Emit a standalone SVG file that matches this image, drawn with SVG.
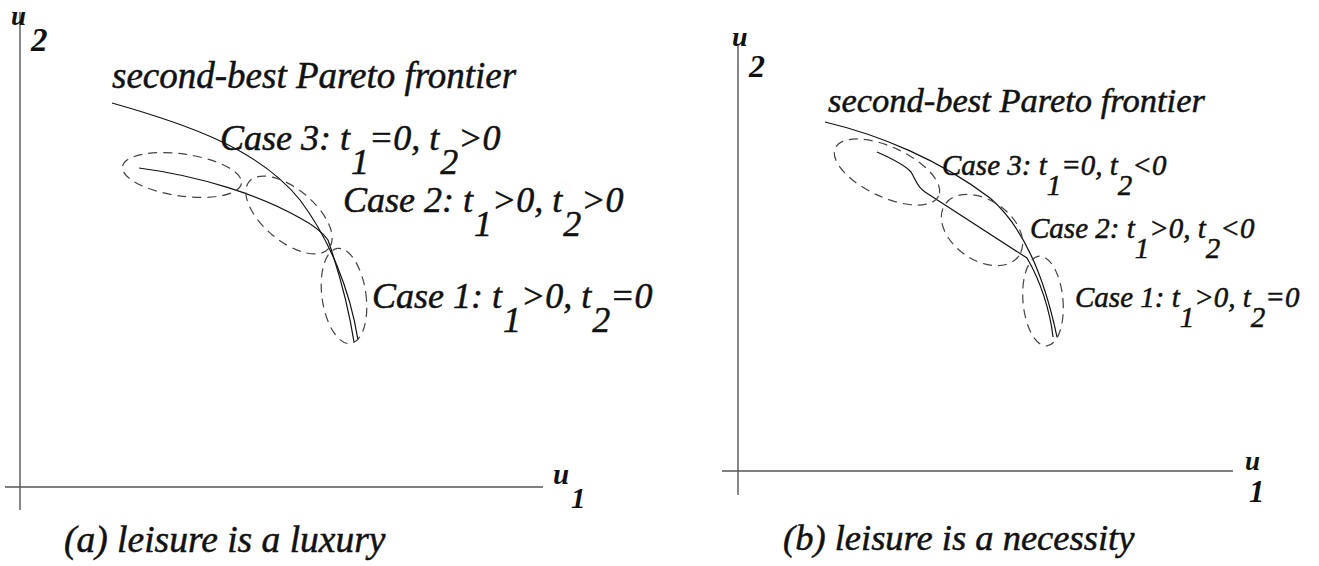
<svg xmlns="http://www.w3.org/2000/svg" width="1319" height="566" viewBox="0 0 1319 566">
<style>
.axis{stroke:#555;stroke-width:1.4;fill:none}
.curve{stroke:#111;stroke-width:1.2;fill:none}
.dash{stroke:#444;stroke-width:1.2;fill:none;stroke-dasharray:9 6}
.lbl{font-family:"Liberation Serif","Times New Roman",serif;font-style:italic;fill:#111;stroke:#111;stroke-width:0.5}
.ax{font-family:"Liberation Serif","Times New Roman",serif;font-style:italic;font-weight:bold;fill:#111}
</style>
<rect width="1319" height="566" fill="#fff"/>
<g id="panel-a">
  <g id="axes-a">
    <line class="axis" x1="20" y1="12" x2="20" y2="510"/>
    <line class="axis" x1="5" y1="487" x2="543" y2="487"/>
    <text class="ax" x="11" y="24.5" font-size="27">u</text>
    <text class="ax" x="31" y="51" font-size="33">2</text>
    <text class="ax" x="553" y="484" font-size="29">u</text>
    <text class="ax" x="571" y="508" font-size="29">1</text>
  </g>
  <g id="frontier-a">
    <path class="curve" d="M112,103 C190,125 260,150 300,200 C330,240 350,290 358,340"/>
    <text class="lbl" x="112" y="88" font-size="37">second-best Pareto frontier</text>
  </g>
  <g id="inner-a">
    <path class="curve" d="M139,168 C200,176 260,195 300,218 C315,226 323,233 328,240 C340,275 349,310 354,342"/>
  </g>
  <g id="case3-a">
    <ellipse class="dash" cx="182" cy="175" rx="60" ry="21" transform="rotate(8 182 175)"/>
    <text class="lbl" x="220" y="150" font-size="36">Case 3: t<tspan dx="1" dy="24">1</tspan><tspan dy="-24">=0, t</tspan><tspan dx="1" dy="24">2</tspan><tspan dy="-24">&gt;0</tspan></text>
  </g>
  <g id="case2-a">
    <ellipse class="dash" cx="289" cy="215" rx="52" ry="26" transform="rotate(40 289 215)"/>
    <text class="lbl" x="343" y="212" font-size="36">Case 2: t<tspan dx="1" dy="24">1</tspan><tspan dy="-24">&gt;0, t</tspan><tspan dx="1" dy="24">2</tspan><tspan dy="-24">&gt;0</tspan></text>
  </g>
  <g id="case1-a">
    <ellipse class="dash" cx="344" cy="296" rx="22" ry="48" transform="rotate(-8 344 296)"/>
    <text class="lbl" x="372" y="308" font-size="36">Case 1: t<tspan dx="1" dy="24">1</tspan><tspan dy="-24">&gt;0, t</tspan><tspan dx="1" dy="24">2</tspan><tspan dy="-24">=0</tspan></text>
  </g>
  <text id="caption-a" class="lbl" x="64" y="552" font-size="37.5">(a) leisure is a luxury</text>
</g>
<g id="panel-b">
  <g id="axes-b">
    <line class="axis" x1="738" y1="44" x2="738" y2="495"/>
    <line class="axis" x1="722" y1="471" x2="1233" y2="471"/>
    <text class="ax" x="732" y="46" font-size="28">u</text>
    <text class="ax" x="749" y="77" font-size="32">2</text>
    <text class="ax" x="1245" y="470" font-size="27">u</text>
    <text class="ax" x="1249" y="502" font-size="31">1</text>
  </g>
  <g id="frontier-b">
    <path class="curve" d="M825,122 C880,135 940,160 990,198 C1025,228 1045,280 1057,337"/>
    <text class="lbl" x="828" y="112" font-size="34.5">second-best Pareto frontier</text>
  </g>
  <g id="inner-b">
    <path class="curve" d="M877,152 C895,160 906,166 911,172 C916,180 917,187 925,192 L1027,258 C1040,280 1050,310 1053,337"/>
  </g>
  <g id="case3-b">
    <ellipse class="dash" cx="887" cy="172" rx="57" ry="25" transform="rotate(25 887 172)"/>
    <text class="lbl" x="942" y="175" font-size="29">Case 3: t<tspan dy="20">1</tspan><tspan dy="-20">=0, t</tspan><tspan dy="20">2</tspan><tspan dy="-20">&lt;0</tspan></text>
  </g>
  <g id="case2-b">
    <ellipse class="dash" cx="982" cy="230" rx="45" ry="30" transform="rotate(35 982 230)"/>
    <text class="lbl" x="1030" y="238" font-size="29">Case 2: t<tspan dy="20">1</tspan><tspan dy="-20">&gt;0, t</tspan><tspan dy="20">2</tspan><tspan dy="-20">&lt;0</tspan></text>
  </g>
  <g id="case1-b">
    <ellipse class="dash" cx="1043" cy="301" rx="20" ry="45" transform="rotate(-5 1043 301)"/>
    <text class="lbl" x="1075" y="307" font-size="29">Case 1: t<tspan dy="20">1</tspan><tspan dy="-20">&gt;0, t</tspan><tspan dy="20">2</tspan><tspan dy="-20">=0</tspan></text>
  </g>
  <text id="caption-b" class="lbl" x="783" y="550" font-size="36.5">(b) leisure is a necessity</text>
</g>
</svg>
